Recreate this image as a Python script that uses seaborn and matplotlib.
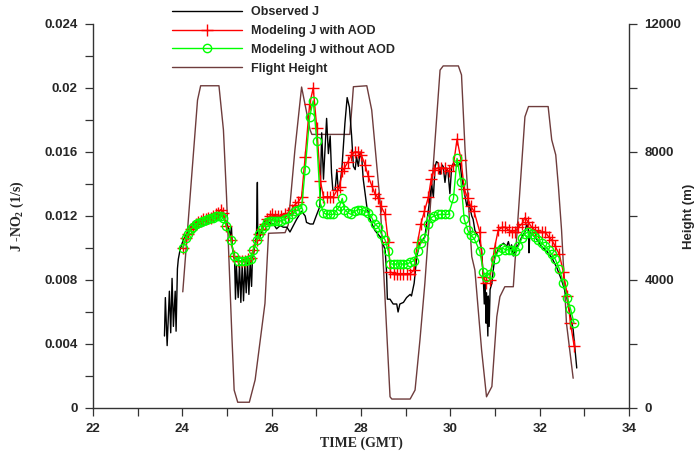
import numpy as np
import pandas as pd
import matplotlib
matplotlib.use("Agg")
import matplotlib.pyplot as plt
from matplotlib.ticker import MultipleLocator, FixedLocator, FixedFormatter
import seaborn as sns

# ---------------- data ----------------
obs_time = [23.60, 23.62, 23.66, 23.71, 23.74, 23.77, 23.80, 23.84, 23.86, 23.89, 23.91, 23.95,
            24.02, 24.10, 24.21, 24.30, 24.40, 24.50, 24.60, 24.70, 24.80, 24.87, 24.93, 24.98,
            25.04, 25.07, 25.10, 25.12, 25.17, 25.19, 25.21, 25.25, 25.28, 25.31, 25.34, 25.37,
            25.40, 25.43, 25.46, 25.49, 25.52, 25.55, 25.57, 25.59, 25.63, 25.66, 25.68, 25.69,
            25.74, 25.81, 25.85, 25.92, 26.04, 26.11, 26.19, 26.26, 26.34, 26.41, 26.56, 26.67,
            26.75, 26.78, 26.86, 26.93, 27.01, 27.08, 27.12, 27.16, 27.23, 27.27, 27.31, 27.34,
            27.37, 27.42, 27.46, 27.49, 27.53, 27.57, 27.64, 27.69, 27.74, 27.79, 27.83, 27.87,
            27.90, 27.94, 27.98, 28.02, 28.05, 28.13, 28.20, 28.31, 28.43, 28.54, 28.57, 28.59,
            28.65, 28.72, 28.80, 28.83, 28.87, 28.95, 29.02, 29.10, 29.13, 29.19, 29.25, 29.32,
            29.43, 29.51, 29.58, 29.62, 29.66, 29.69, 29.73, 29.77, 29.81, 29.84, 29.88, 29.92,
            29.95, 29.99, 30.03, 30.07, 30.14, 30.22, 30.25, 30.33, 30.37, 30.40, 30.48, 30.51,
            30.55, 30.63, 30.70, 30.74, 30.76, 30.78, 30.80, 30.81, 30.84, 30.85, 30.87, 30.89,
            30.93, 30.96, 31.00, 31.04, 31.07, 31.11, 31.19, 31.26, 31.30, 31.34, 31.37, 31.41,
            31.45, 31.52, 31.60, 31.67, 31.71, 31.75, 31.76, 31.78, 31.82, 31.89, 31.97, 32.04,
            32.16, 32.27, 32.38, 32.49, 32.60, 32.75, 32.83]
obs_j = [0.0045, 0.0069, 0.0039, 0.0073, 0.0047, 0.0081, 0.0051, 0.0073, 0.0048, 0.0087, 0.0093, 0.0099,
         0.0105, 0.0109, 0.0114, 0.0115, 0.0116, 0.0117, 0.0118, 0.0119, 0.0120, 0.0121, 0.0119, 0.0115,
         0.0112, 0.0107, 0.0113, 0.0100, 0.0092, 0.0068, 0.0089, 0.0069, 0.0090, 0.0066, 0.0090, 0.0067,
         0.0090, 0.0072, 0.0091, 0.0071, 0.0092, 0.0076, 0.0094, 0.0095, 0.0103, 0.0107, 0.0141, 0.0107,
         0.0107, 0.0113, 0.0117, 0.0116, 0.0115, 0.0112, 0.0114, 0.0113, 0.0113, 0.0110, 0.0118, 0.0123,
         0.0120, 0.0116, 0.0115, 0.0115, 0.0121, 0.0126, 0.0172, 0.0143, 0.0181, 0.0159, 0.0170, 0.0147,
         0.0136, 0.0136, 0.0149, 0.0136, 0.0140, 0.0149, 0.0178, 0.0194, 0.0188, 0.0170, 0.0151, 0.0149,
         0.0157, 0.0151, 0.0160, 0.0155, 0.0143, 0.0126, 0.0118, 0.0111, 0.0107, 0.0099, 0.0086, 0.0068,
         0.0068, 0.0065, 0.0065, 0.0060, 0.0065, 0.0066, 0.0069, 0.0071, 0.0070, 0.0078, 0.0095, 0.0103,
         0.0107, 0.0124, 0.0140, 0.0132, 0.0151, 0.0154, 0.0153, 0.0146, 0.0152, 0.0151, 0.0141, 0.0150,
         0.0147, 0.0134, 0.0151, 0.0153, 0.0151, 0.0153, 0.0145, 0.0132, 0.0126, 0.0130, 0.0120, 0.0118,
         0.0111, 0.0107, 0.0099, 0.0080, 0.0065, 0.0078, 0.0053, 0.0072, 0.0045, 0.0070, 0.0051, 0.0074,
         0.0078, 0.0086, 0.0095, 0.0097, 0.0099, 0.0101, 0.0103, 0.0101, 0.0104, 0.0099, 0.0102, 0.0095,
         0.0099, 0.0102, 0.0107, 0.0110, 0.0115, 0.0111, 0.0097, 0.0110, 0.0109, 0.0107, 0.0104, 0.0101,
         0.0098, 0.0094, 0.0088, 0.0080, 0.0070, 0.0049, 0.0025]

model_time = [24.01, 24.08, 24.13, 24.19, 24.25, 24.30, 24.36, 24.42, 24.47, 24.52, 24.58, 24.64,
              24.69, 24.75, 24.80, 24.86, 24.92, 24.98, 25.09, 25.16, 25.25, 25.33, 25.40, 25.48,
              25.54, 25.59, 25.67, 25.72, 25.78, 25.84, 25.89, 25.96, 26.00, 26.08, 26.15, 26.22,
              26.30, 26.37, 26.45, 26.52, 26.60, 26.67, 26.75, 26.85, 26.93, 27.01, 27.09, 27.16,
              27.23, 27.31, 27.38, 27.46, 27.52, 27.58, 27.63, 27.71, 27.78, 27.86, 27.94, 28.01,
              28.09, 28.16, 28.24, 28.31, 28.39, 28.45, 28.54, 28.61, 28.66, 28.73, 28.80, 28.88,
              28.95, 29.03, 29.10, 29.18, 29.27, 29.34, 29.42, 29.51, 29.57, 29.64, 29.72, 29.80,
              29.88, 29.96, 30.07, 30.15, 30.24, 30.31, 30.39, 30.46, 30.53, 30.66, 30.74, 30.80,
              30.88, 30.99, 31.07, 31.16, 31.23, 31.31, 31.38, 31.45, 31.52, 31.60, 31.67, 31.75,
              31.82, 31.90, 31.97, 32.05, 32.12, 32.20, 32.27, 32.35, 32.44, 32.53, 32.62, 32.69,
              32.77]
j_with_aod = [0.0100, 0.0106, 0.0109, 0.0112, 0.0113, 0.0115, 0.0116, 0.0117, 0.0118, 0.0118, 0.0119, 0.0119,
              0.0120, 0.0121, 0.0122, 0.0124, 0.0122, 0.0114, 0.0105, 0.0095, 0.0092, 0.0092, 0.0092, 0.0093,
              0.0094, 0.0099, 0.0105, 0.0109, 0.0112, 0.0115, 0.0118, 0.0120, 0.0121, 0.0120, 0.0120, 0.0120,
              0.0121, 0.0122, 0.0124, 0.0127, 0.0129, 0.0132, 0.0157, 0.0190, 0.0200, 0.0175, 0.0142, 0.0132,
              0.0132, 0.0132, 0.0132, 0.0136, 0.0138, 0.0148, 0.0150, 0.0154, 0.0158, 0.0160, 0.0160, 0.0158,
              0.0152, 0.0145, 0.0139, 0.0134, 0.0131, 0.0126, 0.0121, 0.0104, 0.0085, 0.0084, 0.0084, 0.0084,
              0.0084, 0.0084, 0.0084, 0.0086, 0.0104, 0.0115, 0.0123, 0.0132, 0.0143, 0.0149, 0.0150, 0.0150,
              0.0150, 0.0148, 0.0152, 0.0168, 0.0155, 0.0137, 0.0131, 0.0126, 0.0123, 0.0110, 0.0082, 0.0078,
              0.0080, 0.0100, 0.0111, 0.0113, 0.0113, 0.0111, 0.0110, 0.0110, 0.0113, 0.0115, 0.0119, 0.0116,
              0.0113, 0.0111, 0.0110, 0.0110, 0.0110, 0.0107, 0.0105, 0.0101, 0.0096, 0.0085, 0.0070, 0.0053,
              0.0039]
j_without_aod = [0.0100, 0.0106, 0.0109, 0.0112, 0.0113, 0.0115, 0.01155, 0.0116, 0.0117, 0.01175, 0.0118, 0.01185,
                 0.0119, 0.0120, 0.0120, 0.0120, 0.01185, 0.0114, 0.0105, 0.0095, 0.0092, 0.0092, 0.0092, 0.00925,
                 0.0093, 0.0099, 0.0105, 0.0109, 0.0112, 0.0114, 0.0116, 0.0117, 0.0117, 0.0117, 0.0117, 0.0117,
                 0.0118, 0.0119, 0.0121, 0.0123, 0.0124, 0.0125, 0.0149, 0.0182, 0.0192, 0.0167, 0.0128, 0.0122,
                 0.0121, 0.0121, 0.0121, 0.0124, 0.0126, 0.0131, 0.0124, 0.0122, 0.0121, 0.0123, 0.0124, 0.0124,
                 0.0123, 0.0122, 0.0119, 0.0115, 0.0113, 0.0109, 0.0105, 0.0098, 0.0090, 0.0090, 0.0090, 0.0090,
                 0.0090, 0.0090, 0.0091, 0.0092, 0.0098, 0.0103, 0.0106, 0.0115, 0.0119, 0.0120, 0.0121, 0.0121,
                 0.0121, 0.0121, 0.0131, 0.0156, 0.0141, 0.0118, 0.0111, 0.0108, 0.0106, 0.0098, 0.0085, 0.0082,
                 0.0084, 0.0093, 0.0098, 0.0100, 0.0099, 0.0099, 0.0099, 0.0098, 0.0101, 0.0106, 0.0109, 0.0110,
                 0.0109, 0.0107, 0.0105, 0.0103, 0.0101, 0.0099, 0.0096, 0.0093, 0.0087, 0.0078, 0.0069, 0.0062,
                 0.0053]

flight_time = [24.01, 24.34, 24.41, 24.82, 24.92, 24.99, 25.11, 25.16, 25.24, 25.50, 25.63, 25.85,
               25.93, 26.30, 26.37, 26.52, 26.67, 26.86, 26.90, 27.75, 27.83, 28.13, 28.24, 28.43,
               28.65, 28.69, 29.10, 29.21, 29.32, 29.43, 29.77, 29.84, 30.18, 30.25, 30.33, 30.48,
               30.55, 30.70, 30.81, 30.93, 31.04, 31.11, 31.22, 31.41, 31.67, 31.75, 32.19, 32.27,
               32.36, 32.42, 32.49, 32.60, 32.75]
flight_height = [3630, 9620, 10070, 10070, 8690, 6600, 2230, 560, 180, 180, 880, 3270,
                 5460, 5480, 5720, 8060, 10030, 8690, 8550, 8550, 10040, 10070, 9310, 6400,
                 350, 280, 280, 560, 2130, 3900, 10560, 10690, 10690, 10410, 8060, 4730,
                 4310, 1810, 350, 670, 2850, 3480, 3790, 3790, 9100, 9420, 9420, 8380,
                 7910, 6920, 5560, 2650, 930]

x_ticks = [22, 24, 26, 28, 30, 32, 34]
y_ticks = [0, 0.004, 0.008, 0.012, 0.016, 0.02, 0.024]
y_labels = ["0", "0.004", "0.008", "0.012", "0.016", "0.02", "0.024"]
y2_ticks = [0, 4000, 8000, 12000]

# ---------------- style ----------------
sns.set_style("ticks")
plt.rcParams["font.family"] = ["Liberation Sans", "DejaVu Sans"]
plt.rcParams["mathtext.fontset"] = "custom"
plt.rcParams["mathtext.rm"] = "Liberation Serif:bold"
plt.rcParams["mathtext.bf"] = "Liberation Serif:bold"

fig = plt.figure(figsize=(7.0, 4.53), dpi=100)
ax = fig.add_axes([93 / 700, 45 / 453, 536 / 700, 384 / 453])
ax2 = ax.twinx()

obs_df = pd.DataFrame({"t": obs_time, "J": obs_j})
mod_df = pd.DataFrame({"t": model_time, "aod": j_with_aod, "noaod": j_without_aod})
fl_df = pd.DataFrame({"t": flight_time, "h": flight_height})

brown = "#6E3C3C"
green = "#00FF00"
sns.lineplot(data=fl_df, x="t", y="h", ax=ax2, color=brown, lw=1.0,
             label="Flight Height", estimator=None, sort=False)
sns.lineplot(data=obs_df, x="t", y="J", ax=ax, color="black", lw=1.0,
             label="Observed J", estimator=None, sort=False)
sns.lineplot(data=mod_df, x="t", y="aod", ax=ax, color="#FF0000", lw=1.0,
             marker="+", markersize=8, markeredgewidth=1.0, markeredgecolor="#FF0000",
             label="Modeling J with AOD", estimator=None, sort=False)
sns.lineplot(data=mod_df, x="t", y="noaod", ax=ax, color=green, lw=1.0,
             marker="o", markersize=6, markeredgewidth=1.0, markeredgecolor=green,
             markerfacecolor="none",
             label="Modeling J without AOD", estimator=None, sort=False)

ax.set_zorder(ax2.get_zorder() + 1)
ax.patch.set_visible(False)

ax.set_xlim(22, 34)
ax.set_ylim(0, 0.024)
ax2.set_ylim(0, 12000)

ax.xaxis.set_major_locator(FixedLocator(x_ticks))
ax.xaxis.set_minor_locator(MultipleLocator(1))
ax.yaxis.set_major_locator(FixedLocator(y_ticks))
ax.yaxis.set_major_formatter(FixedFormatter(y_labels))
ax.yaxis.set_minor_locator(MultipleLocator(0.002))
ax2.yaxis.set_major_locator(FixedLocator(y2_ticks))
ax2.yaxis.set_minor_locator(MultipleLocator(2000))

spine_c = "#333333"
for a in (ax, ax2):
    for s in a.spines.values():
        s.set_color(spine_c)
        s.set_linewidth(1.0)
    a.spines["top"].set_visible(False)
ax.spines["right"].set_visible(False)
ax2.spines["left"].set_visible(False)
ax2.spines["bottom"].set_visible(False)

for a in (ax, ax2):
    a.tick_params(which="both", direction="out", length=6, width=0.9, color=spine_c)
    a.tick_params(which="major", labelsize=9.5, pad=5)
    for lab in a.get_xticklabels() + a.get_yticklabels():
        lab.set_fontweight("bold")

ax.set_xlabel("TIME (GMT)", fontsize=10, fontweight="bold", family="Liberation Serif")
ax.set_ylabel(r"J -NO$_\mathrm{2}$ (1/s)", fontsize=10, fontweight="bold",
              family="Liberation Serif")
ax2.set_ylabel("Height (m)", fontsize=9.5, fontweight="bold")
ax.xaxis.set_label_coords(0.5, -0.075)
ax.yaxis.set_label_coords(-0.125, 0.5)
ax2.yaxis.set_label_coords(1.10, 0.5)

h1, l1 = ax.get_legend_handles_labels()
h2, l2 = ax2.get_legend_handles_labels()
if ax.get_legend():
    ax.get_legend().remove()
if ax2.get_legend():
    ax2.get_legend().remove()
fig.legend(h1 + h2, l1 + l2, loc="upper left",
           bbox_to_anchor=(172 / 700, 1 - 6 / 453), bbox_transform=fig.transFigure,
           frameon=False, borderpad=0, borderaxespad=0, handlelength=5.6,
           handletextpad=0.75, labelspacing=0.55,
           prop={"weight": "bold", "size": 9, "family": "Liberation Sans"})

fig.savefig("out.png", dpi=100)
